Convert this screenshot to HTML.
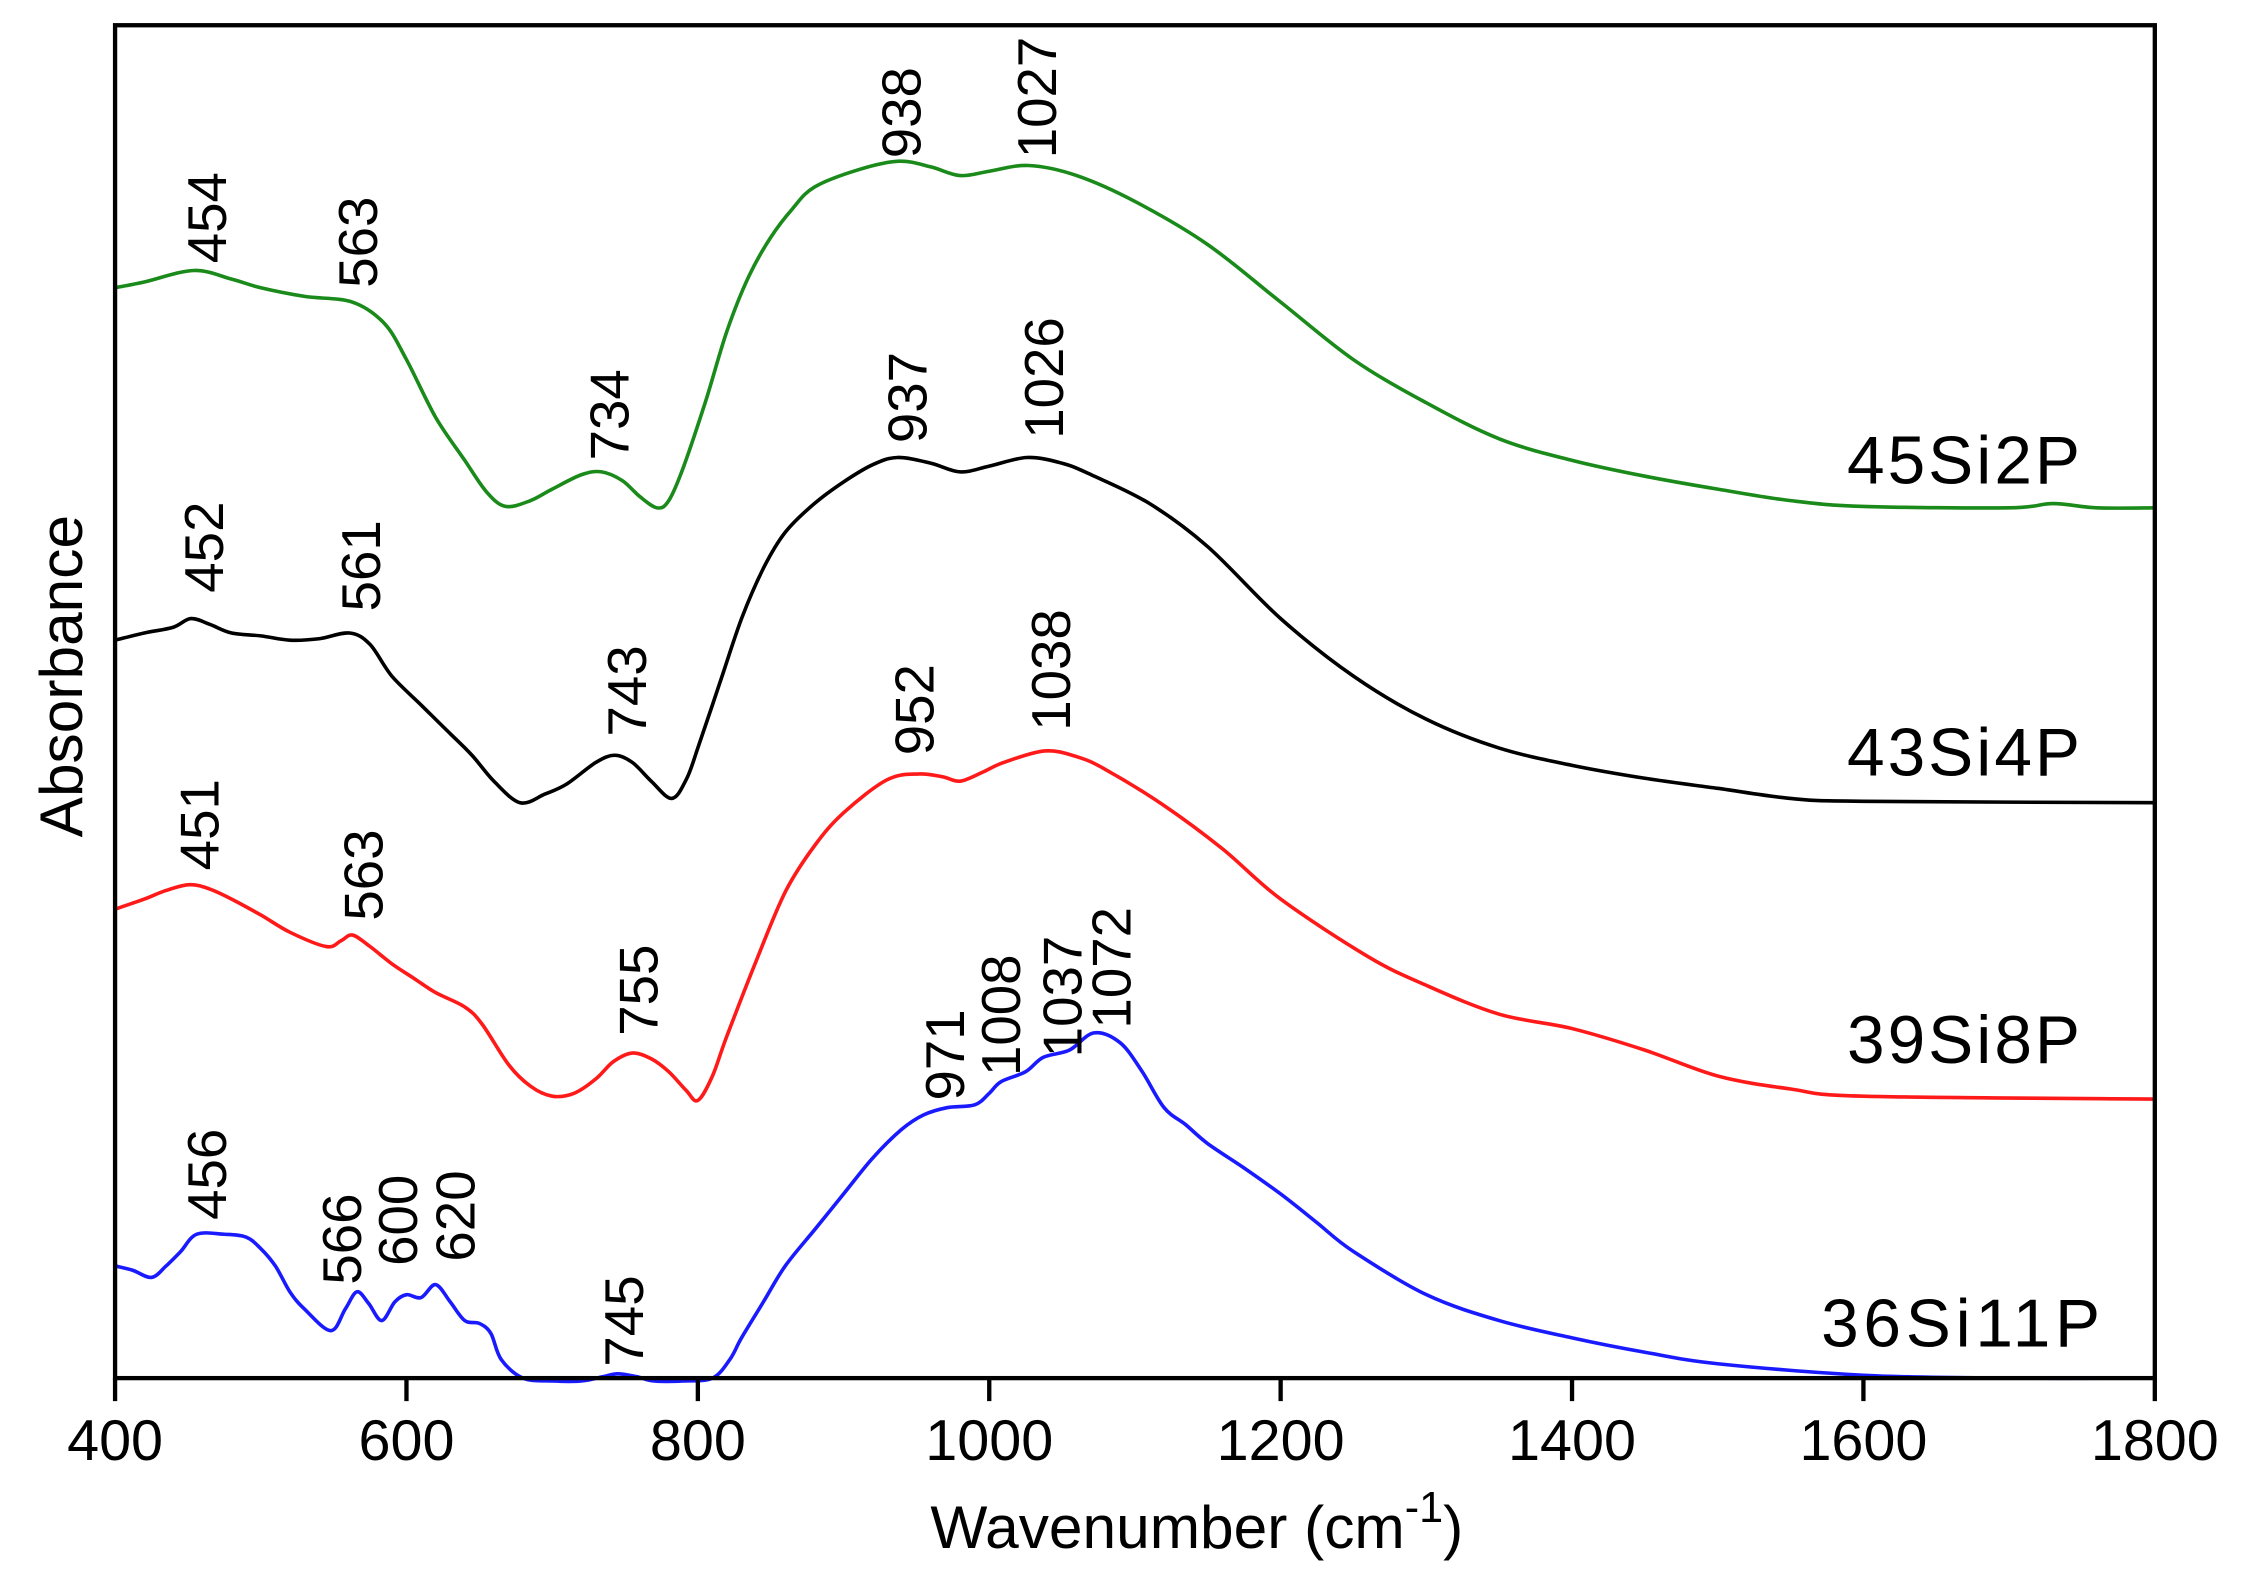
<!DOCTYPE html>
<html><head><meta charset="utf-8"><style>
html,body{margin:0;padding:0;background:#fff;}
svg{display:block}
text{font-family:"Liberation Sans","DejaVu Sans",sans-serif;}
</style></head><body>
<svg id="s" width="2244" height="1581" viewBox="0 0 1560 1099" xmlns="http://www.w3.org/2000/svg">
<rect x="0" y="0" width="1560" height="1099" fill="#fff"/>
<g id="curves" fill="none" stroke-width="2.5" stroke-linejoin="round"></g>
<rect x="80" y="17.5" width="1418" height="940.5" fill="none" stroke="#000" stroke-width="3"/>
<g stroke="#000" stroke-width="3" id="ticks"></g>
<g font-size="40" text-anchor="middle" fill="#000" id="tl"></g>
<text x="832" y="1076" font-size="42" text-anchor="middle">Wavenumber (cm<tspan dy="-18" font-size="30">-1</tspan><tspan dy="18">)</tspan></text>
<text transform="translate(57,470) rotate(-90)" font-size="42" text-anchor="middle">Absorbance</text>
<g font-size="47" fill="#000" text-anchor="end">
<text x="1446" y="336" textLength="162">45Si2P</text>
<text x="1446" y="539" textLength="162">43Si4P</text>
<text x="1446" y="739" textLength="162">39Si8P</text>
<text x="1460" y="936" textLength="194">36Si11P</text>
</g>
<g id="labels" font-size="38" fill="#000"></g>
</svg>
<script>
var R=1498;
function X(v){return 80+(v-400)*(R-80)/1400;}
var NS="http://www.w3.org/2000/svg";
for(var v=400;v<=1800;v+=200){
  var l=document.createElementNS(NS,"line");l.setAttribute("x1",X(v));l.setAttribute("x2",X(v));l.setAttribute("y1",958);l.setAttribute("y2",974);document.getElementById('ticks').appendChild(l);
  var t=document.createElementNS(NS,"text");t.setAttribute("x",X(v));t.setAttribute("y",1015);t.textContent=v;document.getElementById('tl').appendChild(t);
}
var series=[
["#1a8a1a",[[400,200],[420,196],[454,188],[480,194],[500,200],[530,206],[563,210],[585,225],[600,250],[620,290],[640,320],[655,342],[668,352],[685,348],[700,340],[720,330],[734,328],[748,334],[760,345],[772,353],[780,348],[790,325],[805,280],[820,230],[835,192],[850,165],[865,145],[880,130],[910,118],[938,112],[960,116],[980,122],[1000,119],[1027,115],[1060,122],[1100,140],[1150,170],[1200,210],[1250,250],[1300,280],[1350,305],[1400,320],[1450,331],[1500,340],[1550,348],[1600,352],[1700,353],[1730,350],[1760,353],[1800,353]]],
["#000000",[[400,445],[420,440],[440,436],[452,430],[465,434],[480,440],[500,442],[520,445],[540,444],[561,440],[575,448],[590,470],[610,490],[630,510],[645,525],[660,543],[678,558],[695,552],[710,545],[730,530],[743,525],[755,530],[768,543],[782,555],[792,542],[800,520],[815,475],[830,430],[845,395],[860,370],[880,350],[900,335],[920,323],[937,318],[960,322],[980,328],[1000,324],[1026,318],[1050,322],[1070,330],[1110,350],[1150,380],[1200,430],[1250,470],[1300,500],[1350,520],[1400,532],[1450,541],[1500,548],[1550,555],[1600,557],[1800,558]]],
["#ff1a1a",[[400,632],[420,625],[435,619],[451,615],[465,618],[480,625],[500,636],[520,648],[545,658],[555,654],[563,650],[575,658],[590,670],[605,680],[620,690],[640,700],[652,712],[670,740],[685,755],[700,762],[715,760],[730,750],[742,738],[755,732],[768,736],[780,745],[792,758],[800,765],[810,748],[820,720],[840,668],[860,620],[880,588],[900,565],[930,542],[952,538],[968,540],[980,543],[995,537],[1010,530],[1038,522],[1060,526],[1080,535],[1120,560],[1160,590],[1200,625],[1260,665],[1300,685],[1350,705],[1400,715],[1450,730],[1500,748],[1550,757],[1600,762],[1800,764]]],
["#1a1aff",[[400,880],[412,883],[425,888],[435,880],[445,870],[456,858],[475,858],[490,860],[500,868],[510,880],[520,898],[530,910],[548,925],[558,910],[566,898],[574,906],[583,918],[592,905],[600,900],[610,902],[620,893],[630,905],[640,918],[650,920],[658,927],[665,945],[680,958],[700,960],[720,960],[735,957],[745,955],[758,957],[770,960],[790,960],[810,958],[822,945],[830,930],[845,905],[860,880],[880,855],[900,830],[920,805],[940,785],[955,775],[971,770],[990,768],[1000,760],[1008,752],[1025,745],[1037,735],[1055,730],[1072,718],[1090,725],[1105,745],[1120,770],[1135,782],[1150,795],[1175,812],[1200,830],[1225,850],[1250,870],[1300,900],[1350,918],[1400,930],[1450,940],[1500,948],[1600,956],[1700,958],[1800,958]]]
];
var g=document.getElementById('curves');
series.forEach(function(s){
  var p=s[1].map(function(q){return [X(q[0]),q[1]];});
  var d="M"+p[0][0].toFixed(1)+","+p[0][1];
  for(var i=0;i<p.length-1;i++){
    var p0=p[i-1]||p[i],p1=p[i],p2=p[i+1],p3=p[i+2]||p2;
    var c1x=p1[0]+(p2[0]-p0[0])/6,c1y=p1[1]+(p2[1]-p0[1])/6;
    var c2x=p2[0]-(p3[0]-p1[0])/6,c2y=p2[1]-(p3[1]-p1[1])/6;
    d+="C"+c1x.toFixed(1)+","+c1y.toFixed(1)+" "+c2x.toFixed(1)+","+c2y.toFixed(1)+" "+p2[0].toFixed(1)+","+p2[1];
  }
  var e=document.createElementNS(NS,"path");
  e.setAttribute("d",d);e.setAttribute("stroke",s[0]);g.appendChild(e);
});
var labels=[["454",145,183],["563",250,200],["734",425,320],["938",628,110],["1027",722,110],
["452",143,412],["561",252,425],["743",437,512],["937",632,308],["1026",727,305],
["451",140,605],["563",254,640],["755",445,720],["952",637,525],["1038",732,508],
["456",145,848],["566",239,893],["600",278,880],["620",318,877],["745",435,950],["971",658,765],["1008",697,748],["1037",740,735],["1072",774,715]];
var lg=document.getElementById('labels');
labels.forEach(function(l){
  var t=document.createElementNS(NS,"text");
  t.setAttribute("transform","translate("+(l[1]+12)+","+l[2]+") rotate(-90)");
  t.textContent=l[0];lg.appendChild(t);
});
</script>
</body></html>
